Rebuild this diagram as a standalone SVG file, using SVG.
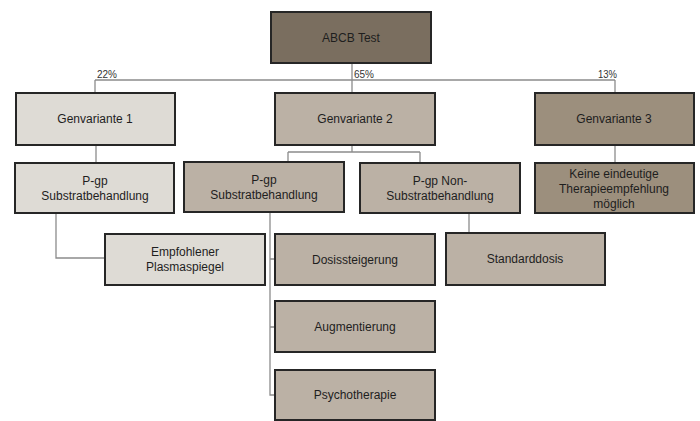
<svg xmlns="http://www.w3.org/2000/svg" width="700" height="421" viewBox="0 0 700 421">
<style>
.b{stroke:#262626;stroke-width:2}
.c1{fill:#7a6e5f}.c2{fill:#dedbd5}.c3{fill:#bbb1a5}.c4{fill:#9c8f7d}
.t{font-family:"Liberation Sans",Arial,sans-serif;font-size:12px;fill:#1e1e1e;text-anchor:middle}
.p{font-family:"Liberation Sans",Arial,sans-serif;font-size:10px;fill:#333}
.l{fill:none;stroke:#8c8c8c;stroke-width:1.3}
</style>
<rect width="700" height="421" fill="#fff"/>
<g id="connectors">
<path class="l" d="M352 63V80M95 80H615M95 80V92M352 80V92M615 80V92"/>
<path class="l" d="M96 145V163"/>
<path class="l" d="M352 145V152M288 152H420M288 152V162M420 152V163"/>
<path class="l" d="M615 145V163"/>
<path class="l" d="M56 213V258H105"/>
<path class="l" d="M270 212V395H275M270 259H275M270 327H275"/>
<path class="l" d="M469 213V233"/>
</g>
<g id="pct">
<text class="p" x="97" y="78" textLength="20" lengthAdjust="spacingAndGlyphs">22%</text>
<text class="p" x="354" y="78" textLength="20" lengthAdjust="spacingAndGlyphs">65%</text>
<text class="p" x="598" y="78" textLength="19" lengthAdjust="spacingAndGlyphs">13%</text>
</g>
<g id="abcb"><rect class="b c1" x="271" y="12" width="160" height="51"/><text class="t" x="351" y="42">ABCB Test</text></g>
<g id="gv1"><rect class="b c2" x="16" y="93" width="159" height="52"/><text class="t" x="95" y="123">Genvariante 1</text></g>
<g id="gv2"><rect class="b c3" x="275" y="93" width="160" height="52"/><text class="t" x="355" y="123">Genvariante 2</text></g>
<g id="gv3"><rect class="b c4" x="535" y="93" width="159" height="52"/><text class="t" x="614" y="123">Genvariante 3</text></g>
<g id="pgp1"><rect class="b c2" x="15" y="163" width="159" height="50"/><text class="t" x="95" y="185">P-gp</text><text class="t" x="95" y="200">Substratbehandlung</text></g>
<g id="pgp2"><rect class="b c3" x="184" y="162" width="160" height="50"/><text class="t" x="264" y="184">P-gp</text><text class="t" x="264" y="199">Substratbehandlung</text></g>
<g id="pgpnon"><rect class="b c3" x="360" y="163" width="160" height="50"/><text class="t" x="440" y="185">P-gp Non-</text><text class="t" x="440" y="200">Substratbehandlung</text></g>
<g id="keine"><rect class="b c4" x="535" y="163" width="159" height="50"/><text class="t" x="614" y="178">Keine eindeutige</text><text class="t" x="614" y="193">Therapieempfehlung</text><text class="t" x="614" y="208">möglich</text></g>
<g id="plasma"><rect class="b c2" x="105" y="234" width="160" height="51"/><text class="t" x="185" y="256">Empfohlener</text><text class="t" x="185" y="271">Plasmaspiegel</text></g>
<g id="dosis"><rect class="b c3" x="275" y="234" width="160" height="51"/><text class="t" x="355" y="264">Dosissteigerung</text></g>
<g id="standard"><rect class="b c3" x="446" y="233" width="159" height="52"/><text class="t" x="525" y="263">Standarddosis</text></g>
<g id="augment"><rect class="b c3" x="275" y="301" width="160" height="51"/><text class="t" x="355" y="331">Augmentierung</text></g>
<g id="psycho"><rect class="b c3" x="275" y="370" width="160" height="50"/><text class="t" x="355" y="399">Psychotherapie</text></g>
</svg>
